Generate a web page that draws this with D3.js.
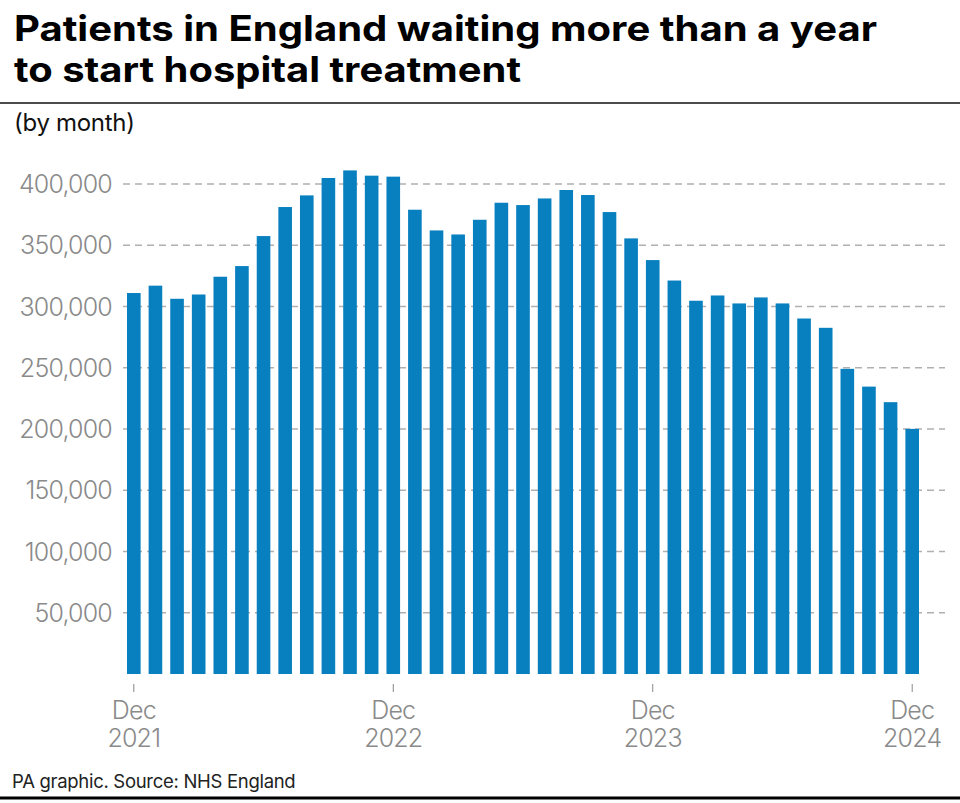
<!DOCTYPE html>
<html><head><meta charset="utf-8">
<script src="https://cdn.jsdelivr.net/npm/d3@7"></script>
<style>body{margin:0;background:#fff}svg{display:block}</style>
</head><body>
<svg id="chart" width="960" height="803"></svg>
<script>
const months = ["Dec 2021","Jan 2022","Feb 2022","Mar 2022","Apr 2022","May 2022","Jun 2022","Jul 2022","Aug 2022","Sep 2022","Oct 2022","Nov 2022","Dec 2022","Jan 2023","Feb 2023","Mar 2023","Apr 2023","May 2023","Jun 2023","Jul 2023","Aug 2023","Sep 2023","Oct 2023","Nov 2023","Dec 2023","Jan 2024","Feb 2024","Mar 2024","Apr 2024","May 2024","Jun 2024","Jul 2024","Aug 2024","Sep 2024","Oct 2024","Nov 2024","Dec 2024"];
const waiting = [311000,317000,306300,309800,324300,333000,357500,381200,390700,404900,411100,406800,406000,379000,362100,358800,370800,384700,382800,388200,395100,391000,377100,355600,337900,321200,304700,309000,302500,307400,302500,290200,282600,249100,234600,221900,200100];
const yTicks = [50000,100000,150000,200000,250000,300000,350000,400000];
const xTickMonths = ["Dec 2021","Dec 2022","Dec 2023","Dec 2024"];
const titleLines = ["Patients in England waiting more than a year","to start hospital treatment"];
const subtitle = "(by month)";
const source = "PA graphic. Source: NHS England";

const svg = d3.select("#chart");
const font = "Inter, 'Liberation Sans', Arial, sans-serif";
const titleWidths = [863, 507];

svg.selectAll("text.title").data(titleLines).join("text")
  .attr("class","title").attr("x",14).attr("y",(d,i)=>41+i*41)
  .attr("font-family",font).attr("font-weight",700).attr("font-size",35)
  .attr("textLength",(d,i)=>titleWidths[i]).attr("lengthAdjust","spacingAndGlyphs")
  .attr("fill","#000").text(d=>d);

svg.append("line").attr("x1",0).attr("x2",960).attr("y1",103).attr("y2",103)
  .attr("stroke","#111").attr("stroke-width",1.5);

svg.append("text").attr("x",14).attr("y",131).attr("font-family",font)
  .attr("font-size",24).attr("fill","#111").attr("letter-spacing",-0.3).text(subtitle);

const x = d3.scaleBand().domain(months).range([123,923]).paddingInner(0.37).paddingOuter(0.185);
const y = d3.scaleLinear().domain([0,400000]).range([674,184]);

// gridlines
const g = svg.append("g");
g.selectAll("line.grid").data(yTicks).join("line").attr("class","grid")
  .attr("x1",123).attr("x2",945).attr("y1",d=>y(d)).attr("y2",d=>y(d))
  .attr("stroke","#b0b0b0").attr("stroke-width",1.3).attr("stroke-dasharray","7,5");

// y labels
g.selectAll("text.ylab").data(yTicks).join("text").attr("class","ylab")
  .attr("x",112).attr("y",d=>y(d)+9).attr("text-anchor","end")
  .attr("font-family",font).attr("font-size",25).attr("font-weight",300).attr("fill","#8a8a8a")
  .attr("letter-spacing",-0.8).text(d=>d3.format(",")(d));

// bars
g.selectAll("rect.bar").data(waiting).join("rect").attr("class","bar")
  .attr("x",(d,i)=>x(months[i])).attr("width",x.bandwidth())
  .attr("y",d=>y(d)).attr("height",d=>y(0)-y(d)).attr("fill","#0880c0");

// x axis
const xAxis = d3.axisBottom(x).tickValues(xTickMonths).tickSize(8).tickFormat("");
const ax = svg.append("g").attr("transform","translate(0,684)").call(xAxis);
ax.select(".domain").remove();
ax.selectAll(".tick line").attr("stroke","#888").attr("stroke-width",1);
ax.selectAll(".tick").each(function(d){
  const parts = d.split(" ");
  const t = d3.select(this);
  t.append("text").attr("y",35).attr("text-anchor","middle").attr("font-family",font)
    .attr("font-size",25).attr("font-weight",300).attr("fill","#8a8a8a").attr("letter-spacing",-0.8).text(parts[0]);
  t.append("text").attr("y",63).attr("text-anchor","middle").attr("font-family",font)
    .attr("font-size",25).attr("font-weight",300).attr("fill","#8a8a8a").attr("letter-spacing",-0.8).text(parts[1]);
});

svg.append("text").attr("x",12).attr("y",788).attr("font-family",font)
  .attr("font-size",18.5).attr("fill","#222").attr("letter-spacing",-0.3).text(source);
svg.append("line").attr("x1",0).attr("x2",960).attr("y1",798).attr("y2",798)
  .attr("stroke","#000").attr("stroke-width",3);
</script>
</body></html>
